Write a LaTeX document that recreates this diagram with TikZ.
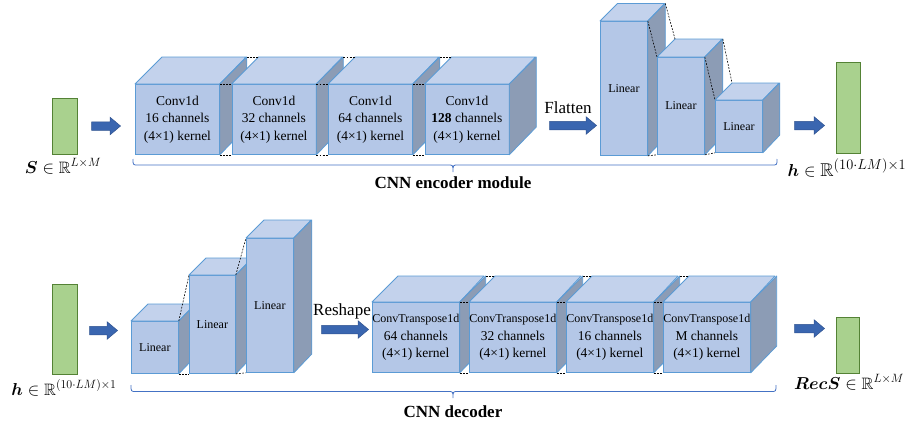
\documentclass[tikz,border=0pt]{standalone}
\usepackage{amsmath,amssymb,bm}
\usepackage{fontspec}
\setmainfont{Liberation Serif}
\usetikzlibrary{shapes.arrows}
\DeclareMathSizes{16.5}{16.5}{12.5}{9}
\DeclareMathSizes{18.5}{18.5}{14.5}{10}
\definecolor{frontc}{HTML}{B4C7E7}
\definecolor{topc}{HTML}{C3D2EC}
\definecolor{sidec}{HTML}{8C9CB5}
\definecolor{edgec}{HTML}{5B9BD5}
\definecolor{greenc}{HTML}{A9D18E}
\definecolor{greenb}{HTML}{548235}
\definecolor{arrowc}{HTML}{3A66B0}
\definecolor{arrowb}{HTML}{2F528F}
\definecolor{bracec}{HTML}{4472C4}
\newcommand\cfont{\fontsize{13.5}{17.5}\selectfont}
\newcommand\lfont{\fontsize{12}{14}\selectfont}
\newcommand\tsmall[1]{{\fontsize{12}{17.5}\selectfont #1}}
\newcommand\mfont{\fontsize{16.5}{18}\selectfont}
\newcommand\mbigfont{\fontsize{18.5}{20}\selectfont}
\newcommand\bfont{\fontsize{17}{20}\selectfont\bfseries}
\newcommand\blk[8]{%
  \node[frontf, minimum width=#4pt, minimum height=#5pt, anchor=north west, font=#8] (#1) at (#2,#3) {#7};
  \draw[topf] (#1.north west) -- ++(#6pt,#6pt) -- ++(#4pt,0pt) -- (#1.north east) -- cycle;
  \draw[sidef] (#1.north east) -- ++(#6pt,#6pt) -- ++(0pt,-#5pt) -- (#1.south east) -- cycle;
}
\tikzset{
  frontf/.style={draw=edgec, fill=frontc, line width=0.8pt, inner sep=0pt, align=center, text=black},
  topf/.style={draw=edgec, fill=topc, line width=0.8pt, line join=round},
  sidef/.style={draw=edgec, fill=sidec, line width=0.8pt, line join=round},
  hid/.style={black, line width=0.6pt, dash pattern=on 1.8pt off 1.4pt},
  gbar/.style={draw=greenb, fill=greenc, line width=0.8pt, inner sep=0pt},
  barrow/.style={single arrow, draw=arrowb, fill=arrowc, line width=0.5pt, inner xsep=0pt, inner ysep=4pt, single arrow head extend=4.5pt, single arrow tip angle=80},
  brc/.style={draw=bracec, line width=0.8pt},
}
\begin{document}
\begin{tikzpicture}[x=1pt,y=-1pt]
\useasboundingbox (0,0) rectangle (915,426);
% ---------------- encoder ----------------
\node[gbar, minimum width=25pt, minimum height=56pt] (S) at (64.5,126) {};
\node[barrow, minimum height=29pt] (a1) at (103.5,126) {};
\blk{c1}{135}{84}{84}{70}{27}{Conv1d\\16 channels\\(4×1) kernel}{\cfont}
\blk{c2}{231.5}{84}{84}{70}{27}{Conv1d\\32 channels\\(4×1) kernel}{\cfont}
\blk{c3}{328}{84}{84}{70}{27}{Conv1d\\64 channels\\(4×1) kernel}{\cfont}
\blk{c4}{424.5}{84}{84}{70}{27}{Conv1d\\\textbf{128} channels\\(4×1) kernel}{\cfont}
\foreach \p/\q in {c1/c2,c2/c3,c3/c4}{
  \draw[hid] (\p.north east) -- (\q.north west);
  \draw[hid] (\p.south east) -- (\q.south west);
  \draw[hid] ([shift={(27pt,27pt)}]\p.north east) -- ([shift={(27pt,27pt)}]\q.north west);
}
\node[font=\fontsize{17}{20}\selectfont, anchor=base] (flat) at (568,113) {Flatten};
\node[barrow, minimum height=47pt] (a2) at (570.5,125.5) {};
\blk{l1}{600}{21}{47}{134}{17.5}{Linear}{\lfont}
\blk{l2}{657}{57}{47}{97}{18}{Linear}{\lfont}
\blk{l3}{715}{100}{47}{52}{17}{Linear}{\lfont}
\draw[hid] (l1.north east) -- (l2.north west);
\draw[hid] (l1.south east) -- (l2.south west);
\draw[hid] ([shift={(17.5pt,17.5pt)}]l1.north east) -- ([shift={(18pt,18pt)}]l2.north west);
\draw[hid] (l2.north east) -- (l3.north west);
\draw[hid] (l2.south east) -- (l3.south west);
\draw[hid] ([shift={(18pt,18pt)}]l2.north east) -- ([shift={(17pt,17pt)}]l3.north west);
\node[barrow, minimum height=30pt] (a3) at (807,125.5) {};
\node[gbar, minimum width=24pt, minimum height=91pt] (h1) at (848,107.5) {};
\node[font=\mfont, anchor=base, inner sep=0pt] (Slab) at (63,173) {$\boldsymbol{S}\in\mathbb{R}^{L\times M}$};
\node[font=\mbigfont, anchor=base, inner sep=0pt] (h1lab) at (847,176) {$\boldsymbol{h}\in\mathbb{R}^{(10\cdot LM)\times 1}$};
\coordinate (eb1) at (133,159);
\coordinate (eb2) at (777,159);
\draw[brc] (eb1) .. controls (133,165) .. (138,165) -- (448,165) .. controls (453,165) .. (453,172) .. controls (453,165) .. (458,165) -- (772,165) .. controls (777,165) .. (eb2);
\node[font=\bfont, anchor=base] (enc) at (453,188) {CNN encoder module};
% ---------------- decoder ----------------
\node[gbar, minimum width=25pt, minimum height=90pt] (h2) at (64.5,329) {};
\node[barrow, minimum height=28pt] (b1) at (101,330.5) {};
\blk{d1}{131}{321}{47}{52}{17}{Linear}{\lfont}
\blk{d2}{189}{275}{46}{98}{17}{Linear}{\lfont}
\blk{d3}{246}{238}{47}{134}{18}{Linear}{\lfont}
\draw[hid] (d1.north east) -- (d2.north west);
\draw[hid] (d1.south east) -- (d2.south west);
\draw[hid] (d2.north east) -- (d3.north west);
\draw[hid] (d2.south east) -- (d3.south west);
\node[font=\fontsize{17}{20}\selectfont, anchor=base] (resh) at (342,315) {Reshape};
\node[barrow, minimum height=47pt] (b2) at (342.5,329.5) {};
\blk{t1}{372}{302}{86}{70}{26}{\tsmall{ConvTranspose1d}\\64 channels\\(4×1) kernel}{\cfont}
\blk{t2}{469}{302}{86}{70}{26}{\tsmall{ConvTranspose1d}\\32 channels\\(4×1) kernel}{\cfont}
\blk{t3}{566}{302}{86}{70}{26}{\tsmall{ConvTranspose1d}\\16 channels\\(4×1) kernel}{\cfont}
\blk{t4}{663}{302}{86}{70}{26}{\tsmall{ConvTranspose1d}\\M channels\\(4×1) kernel}{\cfont}
\foreach \p/\q in {t1/t2,t2/t3,t3/t4}{
  \draw[hid] (\p.north east) -- (\q.north west);
  \draw[hid] (\p.south east) -- (\q.south west);
  \draw[hid] ([shift={(26pt,26pt)}]\p.north east) -- ([shift={(26pt,26pt)}]\q.north west);
}
\node[barrow, minimum height=30pt] (b3) at (807,328.5) {};
\node[gbar, minimum width=23pt, minimum height=56pt] (rs) at (847.5,345) {};
\node[font=\mfont, anchor=base, inner sep=0pt] (h2lab) at (64,395) {$\boldsymbol{h}\in\mathbb{R}^{(10\cdot LM)\times 1}$};
\node[font=\mfont, anchor=base, inner sep=0pt] (rslab) at (849,389) {$\boldsymbol{RecS}\in\mathbb{R}^{L\times M}$};
\coordinate (db1) at (131,385);
\coordinate (db2) at (776,385);
\draw[brc] (db1) .. controls (131,391.5) .. (136,391.5) -- (448,391.5) .. controls (453,391.5) .. (453,398) .. controls (453,391.5) .. (458,391.5) -- (771,391.5) .. controls (776,391.5) .. (db2);
\node[font=\bfont, anchor=base] (dec) at (453,417) {CNN decoder};
\end{tikzpicture}
\end{document}
